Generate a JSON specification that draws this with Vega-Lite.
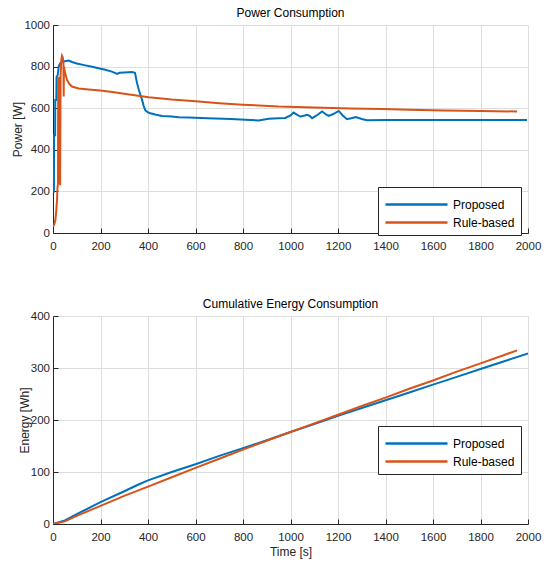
{
  "$schema": "https://vega.github.io/schema/vega-lite/v6.json",
  "padding": {"left": 11, "top": 7, "right": 16, "bottom": 2},
  "spacing": 46,
  "datasets": {
    "power": [
      {"t": 2, "value": 200, "series": "Proposed"},
      {"t": 4, "value": 200, "series": "Proposed"},
      {"t": 4.5, "value": 470, "series": "Proposed"},
      {"t": 9, "value": 470, "series": "Proposed"},
      {"t": 9.5, "value": 640, "series": "Proposed"},
      {"t": 14, "value": 640, "series": "Proposed"},
      {"t": 15, "value": 750, "series": "Proposed"},
      {"t": 20, "value": 760, "series": "Proposed"},
      {"t": 24, "value": 800, "series": "Proposed"},
      {"t": 30, "value": 815, "series": "Proposed"},
      {"t": 38, "value": 822, "series": "Proposed"},
      {"t": 50, "value": 826, "series": "Proposed"},
      {"t": 66, "value": 829, "series": "Proposed"},
      {"t": 80, "value": 822, "series": "Proposed"},
      {"t": 100, "value": 815, "series": "Proposed"},
      {"t": 136, "value": 806, "series": "Proposed"},
      {"t": 160, "value": 800, "series": "Proposed"},
      {"t": 192, "value": 792, "series": "Proposed"},
      {"t": 220, "value": 785, "series": "Proposed"},
      {"t": 248, "value": 776, "series": "Proposed"},
      {"t": 260, "value": 770, "series": "Proposed"},
      {"t": 270, "value": 765, "series": "Proposed"},
      {"t": 280, "value": 770, "series": "Proposed"},
      {"t": 300, "value": 772, "series": "Proposed"},
      {"t": 333, "value": 774, "series": "Proposed"},
      {"t": 345, "value": 770, "series": "Proposed"},
      {"t": 347, "value": 760, "series": "Proposed"},
      {"t": 354, "value": 720, "series": "Proposed"},
      {"t": 361, "value": 690, "series": "Proposed"},
      {"t": 368, "value": 665, "series": "Proposed"},
      {"t": 375, "value": 640, "series": "Proposed"},
      {"t": 382, "value": 610, "series": "Proposed"},
      {"t": 389, "value": 590, "series": "Proposed"},
      {"t": 400, "value": 580, "series": "Proposed"},
      {"t": 410, "value": 576, "series": "Proposed"},
      {"t": 430, "value": 570, "series": "Proposed"},
      {"t": 459, "value": 563, "series": "Proposed"},
      {"t": 500, "value": 560, "series": "Proposed"},
      {"t": 529, "value": 557, "series": "Proposed"},
      {"t": 571, "value": 555, "series": "Proposed"},
      {"t": 650, "value": 552, "series": "Proposed"},
      {"t": 750, "value": 548, "series": "Proposed"},
      {"t": 810, "value": 544, "series": "Proposed"},
      {"t": 866, "value": 541, "series": "Proposed"},
      {"t": 908, "value": 549, "series": "Proposed"},
      {"t": 950, "value": 552, "series": "Proposed"},
      {"t": 978, "value": 553, "series": "Proposed"},
      {"t": 1000, "value": 565, "series": "Proposed"},
      {"t": 1013, "value": 579, "series": "Proposed"},
      {"t": 1030, "value": 567, "series": "Proposed"},
      {"t": 1042, "value": 560, "series": "Proposed"},
      {"t": 1060, "value": 565, "series": "Proposed"},
      {"t": 1069, "value": 568, "series": "Proposed"},
      {"t": 1080, "value": 564, "series": "Proposed"},
      {"t": 1091, "value": 552, "series": "Proposed"},
      {"t": 1110, "value": 565, "series": "Proposed"},
      {"t": 1133, "value": 584, "series": "Proposed"},
      {"t": 1150, "value": 570, "series": "Proposed"},
      {"t": 1161, "value": 563, "series": "Proposed"},
      {"t": 1180, "value": 572, "series": "Proposed"},
      {"t": 1203, "value": 587, "series": "Proposed"},
      {"t": 1220, "value": 565, "series": "Proposed"},
      {"t": 1238, "value": 547, "series": "Proposed"},
      {"t": 1260, "value": 553, "series": "Proposed"},
      {"t": 1275, "value": 557, "series": "Proposed"},
      {"t": 1300, "value": 548, "series": "Proposed"},
      {"t": 1322, "value": 542, "series": "Proposed"},
      {"t": 1400, "value": 543, "series": "Proposed"},
      {"t": 1600, "value": 543, "series": "Proposed"},
      {"t": 1800, "value": 543, "series": "Proposed"},
      {"t": 1996, "value": 543, "series": "Proposed"},
      {"t": 0, "value": 30, "series": "Rule-based"},
      {"t": 5, "value": 40, "series": "Rule-based"},
      {"t": 10, "value": 62, "series": "Rule-based"},
      {"t": 14, "value": 110, "series": "Rule-based"},
      {"t": 17, "value": 160, "series": "Rule-based"},
      {"t": 19, "value": 220, "series": "Rule-based"},
      {"t": 21, "value": 235, "series": "Rule-based"},
      {"t": 22, "value": 750, "series": "Rule-based"},
      {"t": 24, "value": 240, "series": "Rule-based"},
      {"t": 26, "value": 740, "series": "Rule-based"},
      {"t": 28, "value": 750, "series": "Rule-based"},
      {"t": 30, "value": 230, "series": "Rule-based"},
      {"t": 32, "value": 760, "series": "Rule-based"},
      {"t": 35, "value": 830, "series": "Rule-based"},
      {"t": 38, "value": 852, "series": "Rule-based"},
      {"t": 41, "value": 845, "series": "Rule-based"},
      {"t": 44, "value": 815, "series": "Rule-based"},
      {"t": 45, "value": 656, "series": "Rule-based"},
      {"t": 46, "value": 800, "series": "Rule-based"},
      {"t": 50, "value": 775, "series": "Rule-based"},
      {"t": 59, "value": 736, "series": "Rule-based"},
      {"t": 70, "value": 715, "series": "Rule-based"},
      {"t": 80, "value": 704, "series": "Rule-based"},
      {"t": 108, "value": 695, "series": "Rule-based"},
      {"t": 150, "value": 690, "series": "Rule-based"},
      {"t": 200, "value": 685, "series": "Rule-based"},
      {"t": 250, "value": 678, "series": "Rule-based"},
      {"t": 300, "value": 670, "series": "Rule-based"},
      {"t": 403, "value": 653, "series": "Rule-based"},
      {"t": 500, "value": 642, "series": "Rule-based"},
      {"t": 614, "value": 632, "series": "Rule-based"},
      {"t": 700, "value": 624, "series": "Rule-based"},
      {"t": 800, "value": 617, "series": "Rule-based"},
      {"t": 950, "value": 608, "series": "Rule-based"},
      {"t": 1100, "value": 603, "series": "Rule-based"},
      {"t": 1250, "value": 599, "series": "Rule-based"},
      {"t": 1385, "value": 596, "series": "Rule-based"},
      {"t": 1500, "value": 593, "series": "Rule-based"},
      {"t": 1650, "value": 589, "series": "Rule-based"},
      {"t": 1800, "value": 587, "series": "Rule-based"},
      {"t": 1954, "value": 584, "series": "Rule-based"}
    ],
    "energy": [
      {"t": 0, "value": 0, "series": "Proposed"},
      {"t": 50, "value": 7, "series": "Proposed"},
      {"t": 100, "value": 19, "series": "Proposed"},
      {"t": 200, "value": 42, "series": "Proposed"},
      {"t": 300, "value": 63, "series": "Proposed"},
      {"t": 360, "value": 76, "series": "Proposed"},
      {"t": 400, "value": 84, "series": "Proposed"},
      {"t": 500, "value": 100, "series": "Proposed"},
      {"t": 600, "value": 115, "series": "Proposed"},
      {"t": 700, "value": 131, "series": "Proposed"},
      {"t": 800, "value": 146, "series": "Proposed"},
      {"t": 900, "value": 161, "series": "Proposed"},
      {"t": 1000, "value": 177, "series": "Proposed"},
      {"t": 1100, "value": 192, "series": "Proposed"},
      {"t": 1200, "value": 208, "series": "Proposed"},
      {"t": 1300, "value": 223, "series": "Proposed"},
      {"t": 1400, "value": 238, "series": "Proposed"},
      {"t": 1500, "value": 253, "series": "Proposed"},
      {"t": 1600, "value": 268, "series": "Proposed"},
      {"t": 1700, "value": 283, "series": "Proposed"},
      {"t": 1800, "value": 298, "series": "Proposed"},
      {"t": 1900, "value": 313, "series": "Proposed"},
      {"t": 2000, "value": 328, "series": "Proposed"},
      {"t": 0, "value": 0, "series": "Rule-based"},
      {"t": 50, "value": 5, "series": "Rule-based"},
      {"t": 100, "value": 15.5, "series": "Rule-based"},
      {"t": 200, "value": 35, "series": "Rule-based"},
      {"t": 300, "value": 54, "series": "Rule-based"},
      {"t": 400, "value": 72, "series": "Rule-based"},
      {"t": 500, "value": 90, "series": "Rule-based"},
      {"t": 600, "value": 108, "series": "Rule-based"},
      {"t": 700, "value": 125.5, "series": "Rule-based"},
      {"t": 800, "value": 143, "series": "Rule-based"},
      {"t": 900, "value": 160, "series": "Rule-based"},
      {"t": 1000, "value": 177, "series": "Rule-based"},
      {"t": 1100, "value": 193.5, "series": "Rule-based"},
      {"t": 1200, "value": 210, "series": "Rule-based"},
      {"t": 1300, "value": 227, "series": "Rule-based"},
      {"t": 1400, "value": 243, "series": "Rule-based"},
      {"t": 1500, "value": 260, "series": "Rule-based"},
      {"t": 1600, "value": 276, "series": "Rule-based"},
      {"t": 1700, "value": 293, "series": "Rule-based"},
      {"t": 1800, "value": 309, "series": "Rule-based"},
      {"t": 1900, "value": 325, "series": "Rule-based"},
      {"t": 1954, "value": 334, "series": "Rule-based"}
    ]
  },
  "vconcat": [
    {
      "title": "Power Consumption",
      "width": 475,
      "height": 208,
      "data": {"name": "power"},
      "mark": {"type": "line", "strokeWidth": 2, "clip": true},
      "encoding": {
        "x": {
          "field": "t",
          "type": "quantitative",
          "scale": {"domain": [0, 2000]},
          "axis": {"values": [0, 200, 400, 600, 800, 1000, 1200, 1400, 1600, 1800, 2000], "title": null}
        },
        "y": {
          "field": "value",
          "type": "quantitative",
          "scale": {"domain": [0, 1000]},
          "axis": {"values": [0, 200, 400, 600, 800, 1000], "title": "Power [W]"}
        },
        "color": {
          "field": "series",
          "type": "nominal",
          "scale": {"domain": ["Proposed", "Rule-based"], "range": ["#0072BD", "#D95319"]},
          "legend": {"orient": "none", "legendX": 325, "legendY": 162}
        }
      }
    },
    {
      "title": "Cumulative Energy Consumption",
      "width": 475,
      "height": 208,
      "data": {"name": "energy"},
      "mark": {"type": "line", "strokeWidth": 2, "clip": true},
      "encoding": {
        "x": {
          "field": "t",
          "type": "quantitative",
          "scale": {"domain": [0, 2000]},
          "axis": {"values": [0, 200, 400, 600, 800, 1000, 1200, 1400, 1600, 1800, 2000], "title": "Time [s]"}
        },
        "y": {
          "field": "value",
          "type": "quantitative",
          "scale": {"domain": [0, 400]},
          "axis": {"values": [0, 100, 200, 300, 400], "title": "Energy [Wh]"}
        },
        "color": {
          "field": "series",
          "type": "nominal",
          "scale": {"domain": ["Proposed", "Rule-based"], "range": ["#0072BD", "#D95319"]},
          "legend": {"orient": "none", "legendX": 325, "legendY": 110}
        }
      }
    }
  ],
  "resolve": {"scale": {"color": "independent"}, "legend": {"color": "independent"}},
  "config": {
    "font": "Liberation Sans",
    "view": {"stroke": null},
    "title": {"fontSize": 12, "fontWeight": "normal", "color": "#000000", "offset": -1},
    "axis": {
      "gridColor": "#dedede",
      "gridOpacity": 1,
      "domainColor": "#262626",
      "tickColor": "#262626",
      "tickSize": -5,
      "labelColor": "#262626",
      "labelFontSize": 11.5,
      "format": "d",
      "titleFontSize": 12,
      "titleFontWeight": "normal",
      "titleColor": "#262626",
      "labelFlush": false,
      "labelOverlap": false
    },
    "axisX": {"labelPadding": 12, "titlePadding": 4},
    "axisY": {"labelPadding": 8.5, "titlePadding": -0.7},
    "legend": {
      "title": null,
      "fillColor": "#ffffff",
      "strokeColor": "#262626",
      "padding": 6,
      "symbolType": "M-1,0H5.2",
      "symbolSize": 400,
      "symbolStrokeWidth": 2.5,
      "symbolFillColor": "transparent",
      "labelOffset": 46,
      "labelFontSize": 12,
      "labelColor": "#000000",
      "rowPadding": -6
    }
  }
}
